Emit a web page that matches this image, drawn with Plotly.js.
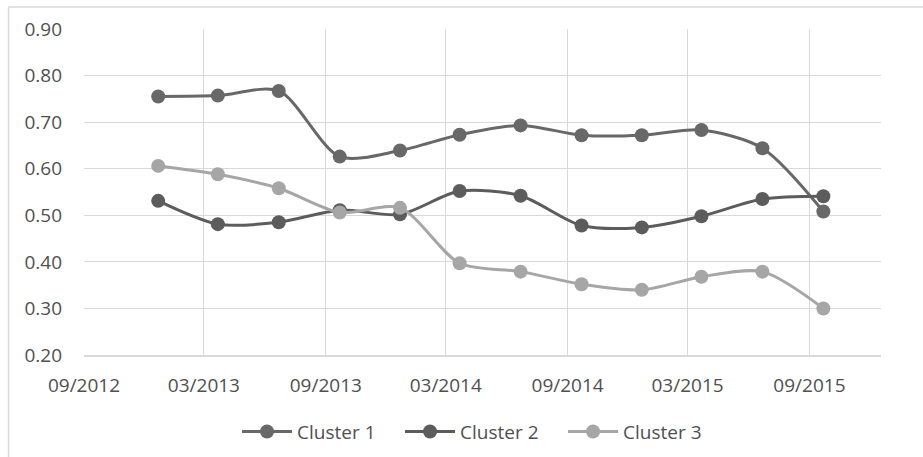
<!DOCTYPE html>
<html>
<head>
<meta charset="utf-8">
<script src="https://cdn.plot.ly/plotly-3.0.1.min.js"></script>
<style>html,body{margin:0;padding:0;background:#fff;}#chart{width:923px;height:457px;}</style>
</head>
<body>
<div id="chart"></div>
<script>
const dates = ['2012-12-22','2013-03-22','2013-06-22','2013-09-22','2013-12-22','2014-03-22','2014-06-22','2014-09-22','2014-12-22','2015-03-22','2015-06-22','2015-09-22'];
const seriesNames = ['Cluster 1','Cluster 2','Cluster 3'];
const cluster1 = [0.755,0.757,0.767,0.626,0.639,0.673,0.693,0.672,0.672,0.683,0.644,0.508];
const cluster2 = [0.531,0.481,0.485,0.511,0.502,0.552,0.542,0.478,0.474,0.498,0.535,0.541];
const cluster3 = [0.606,0.588,0.558,0.506,0.516,0.397,0.379,0.352,0.340,0.368,0.379,0.300];
const colors = ['#686868','#5c5c5c','#a6a6a6'];
const allSeries = [cluster1, cluster2, cluster3];

const traces = allSeries.map((vals, i) => ({
  x: dates, y: vals, name: seriesNames[i], type: 'scatter', mode: 'lines+markers',
  line: {color: colors[i], width: 3, shape: 'spline', smoothing: 0.8},
  marker: {color: colors[i], size: 14}
}));

const font = {family: '"Open Sans", sans-serif', size: 19, color: '#505050'};
const layout = {
  width: 923, height: 457,
  margin: {l: 84, r: 42, t: 29, b: 102, autoexpand: false},
  paper_bgcolor: '#ffffff', plot_bgcolor: '#ffffff',
  font: font,
  showlegend: true,
  legend: {orientation: 'h', x: 0.192, xanchor: 'left', y: -0.235, yanchor: 'middle',
    font: font, itemwidth: 50, entrywidth: 98, entrywidthmode: 'pixels', traceorder: 'normal'},
  xaxis: {
    type: 'date', range: ['2012-09-01','2015-12-18'], automargin: false,
    tick0: '2012-09-01', dtick: 'M6', tickformat: '%m/%Y',
    showgrid: true, gridcolor: '#d9d9d9', gridwidth: 1,
    showline: true, linecolor: '#d9d9d9', linewidth: 1.5,
    ticks: '', ticklabelstandoff: 13, zeroline: false,
    tickfont: font
  },
  yaxis: {
    range: [0.2, 0.9], dtick: 0.1, tick0: 0.2, tickformat: '.2f', automargin: false,
    showgrid: true, gridcolor: '#d9d9d9', gridwidth: 1,
    showline: false, zeroline: false, ticks: '', ticklabelstandoff: 21,
    tickfont: font
  },
  shapes: [
    {type: 'line', xref: 'paper', yref: 'paper', x0: -0.0947, x1: -0.0947, y0: -0.32, y1: 1.0675,
      line: {color: '#d9d9d9', width: 1.5}},
    {type: 'line', xref: 'paper', yref: 'paper', x0: -0.0947, x1: 1.06, y0: 1.0675, y1: 1.0675,
      line: {color: '#d9d9d9', width: 1.5}}
  ]
};
Plotly.newPlot('chart', traces, layout, {displayModeBar: false, staticPlot: true});
</script>
</body>
</html>
